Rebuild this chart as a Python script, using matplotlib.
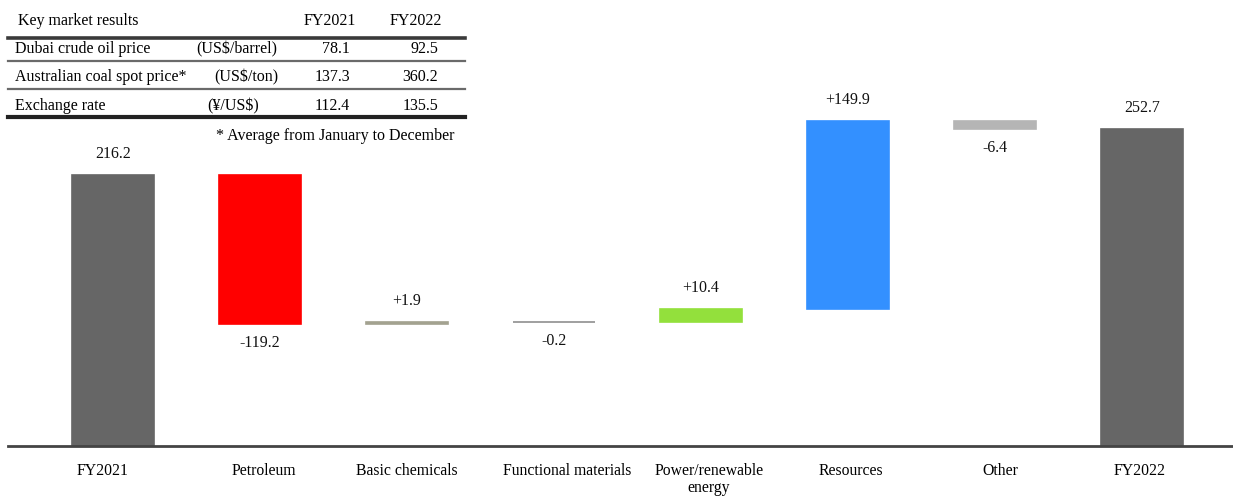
import numpy as np
import matplotlib.pyplot as plt
import matplotlib.transforms as mtransforms
from matplotlib.lines import Line2D

plt.rcParams['font.family'] = ['Liberation Serif', 'DejaVu Serif']

# waterfall data
categories = ['FY2021', 'Petroleum', 'Basic chemicals', 'Functional materials',
              'Power/renewable\nenergy', 'Resources', 'Other', 'FY2022']
values = [216.2, -119.2, 1.9, -0.2, 10.4, 149.9, -6.4, 252.7]
is_total = [True, False, False, False, False, False, False, True]
bar_colors = ['#666666', '#ff0000', '#a3a290', '#8f8f8f', '#93e03c',
              '#3390ff', '#b5b5b5', '#666666']

# key market table
table_header = ['Key market results', 'FY2021', 'FY2022']
table_rows = ['Dubai crude oil price', 'Australian coal spot price*', 'Exchange rate']
table_units = ['(US$/barrel)', '(US$/ton)', '(¥/US$)']
fy2021_vals = ['78.1', '137.3', '112.4']
fy2022_vals = ['92.5', '360.2', '135.5']
footnote = '* Average from January to December'

W, H = 1233, 497
fig = plt.figure(figsize=(W / 100, H / 100), dpi=100)


def px(x, y):
    return x / W, 1 - y / H


# main axes: baseline at y=446px, bar centers 147px apart starting at 113px
base = 446
scale = 1.254
ax = fig.add_axes([8 / W, (H - base) / H, 1 - 8 / W, base / H])
ax.patch.set_alpha(0)

xs = np.arange(len(values))
running = 0.0
for i, v in enumerate(values):
    if is_total[i]:
        bottom, height = 0, v
        running = v
        label = '%.1f' % v
    else:
        bottom, height = running, v
        running = running + v
        label = '%+.1f' % v
    ax.bar(xs[i], height, bottom=bottom, width=0.56, color=bar_colors[i],
           edgecolor=bar_colors[i], linewidth=1.2)
    top = max(bottom, bottom + height)
    low = min(bottom, bottom + height)
    if v >= 0:
        ax.annotate(label, (xs[i], top), xytext=(0, 15), textcoords='offset points',
                    ha='center', va='center', fontsize=11.5, color='#111111')
    else:
        ax.annotate(label, (xs[i], low), xytext=(0, -13.7), textcoords='offset points',
                    ha='center', va='center', fontsize=11.5, color='#111111')

ax.set_xlim((8 - 113) / 147, (1233 - 113) / 147)
ax.set_ylim(0, base / scale)
ax.set_xticks(xs)
ax.set_xticklabels(categories, fontsize=11.3, linespacing=1.1)
ax.tick_params(axis='x', length=0, pad=12)
ax.set_yticks([])
for s in ['top', 'left', 'right']:
    ax.spines[s].set_visible(False)
ax.spines['bottom'].set_color('#444444')
ax.spines['bottom'].set_linewidth(2)

# the source labels are not exactly under the bars
label_shift = [-10, 4, 0, 13, 8, 3, 5, -2]
for lab, dx in zip(ax.get_xticklabels(), label_shift):
    lab.set_transform(lab.get_transform() +
                      mtransforms.ScaledTranslation(dx / 100, 0, fig.dpi_scale_trans))

# table lines
def hline(y, lw, color):
    x0, yy = px(8, y)
    x1, _ = px(465, y)
    fig.add_artist(Line2D([x0, x1], [yy, yy], lw=lw, color=color))

hline(37.5, 2.6, '#3a3a3a')
hline(60.5, 1.6, '#6a6a6a')
hline(88.5, 1.6, '#6a6a6a')
hline(117, 3.0, '#222222')

fs = 11.5
fig.text(*px(18, 21), table_header[0], fontsize=fs, ha='left', va='center')
fig.text(*px(330, 21), table_header[1], fontsize=fs, ha='center', va='center')
fig.text(*px(416, 21), table_header[2], fontsize=fs, ha='center', va='center')

row_y = [49, 77, 106]
unit_x = [237, 246, 233]
for i in range(len(table_rows)):
    fig.text(*px(15, row_y[i]), table_rows[i], fontsize=fs, ha='left', va='center')
    fig.text(*px(unit_x[i], row_y[i]), table_units[i], fontsize=fs, ha='center', va='center')
    fig.text(*px(350, row_y[i]), fy2021_vals[i], fontsize=fs, ha='right', va='center')
    fig.text(*px(438, row_y[i]), fy2022_vals[i], fontsize=fs, ha='right', va='center')

fig.text(*px(455, 136), footnote, fontsize=fs, ha='right', va='center')

fig.savefig('out.png', dpi=100)
